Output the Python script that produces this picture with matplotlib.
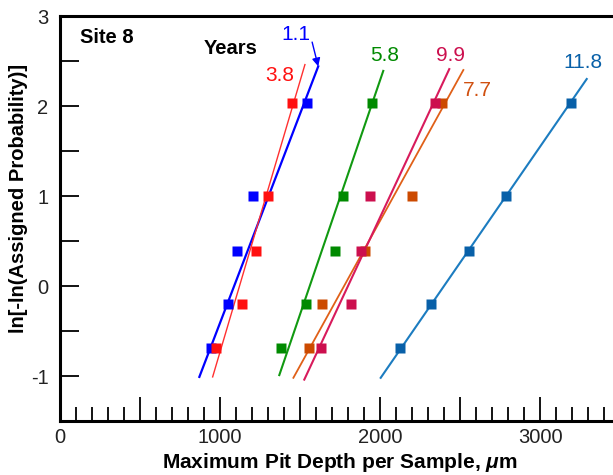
import matplotlib
matplotlib.use("Agg")
import matplotlib.pyplot as plt
from matplotlib.ticker import MultipleLocator, FuncFormatter

plt.rcParams['font.family'] = ['Liberation Sans', 'DejaVu Sans']
plt.rcParams['mathtext.fontset'] = 'custom'
plt.rcParams['mathtext.it'] = 'Liberation Sans:italic:bold'
plt.rcParams['mathtext.rm'] = 'Liberation Sans:bold'
plt.rcParams['axes.unicode_minus'] = False

# ---- data ----
years = ["1.1", "3.8", "5.8", "9.9", "7.7", "11.8"]
y_levels = [2.03, 1.00, 0.39, -0.20, -0.69]
depth_1_1 = [1547, 1210, 1106, 1050, 944]
depth_3_8 = [1449, 1304, 1225, 1141, 977]
depth_5_8 = [1949, 1772, 1720, 1537, 1381]
depth_9_9 = [2344, 1938, 1880, 1818, 1630]
depth_7_7 = [2386, 2202, 1907, 1637, 1560]
depth_11_8 = [3193, 2785, 2558, 2319, 2125]

# fitted line end points (x at bottom, x at top) and (y bottom, y top)
fit_x_1_1 = [873, 1615];  fit_y_1_1 = [-1.01, 2.44]
fit_x_3_8 = [956, 1532];  fit_y_3_8 = [-1.01, 2.46]
fit_x_5_8 = [1372, 2021]; fit_y_5_8 = [-0.99, 2.39]
fit_x_9_9 = [1528, 2433]; fit_y_9_9 = [-1.04, 2.41]
fit_x_7_7 = [1460, 2521]; fit_y_7_7 = [-1.02, 2.40]
fit_x_11_8 = [2005, 3291]; fit_y_11_8 = [-1.02, 2.30]

series = [
    (depth_1_1, fit_x_1_1, fit_y_1_1, '#0000FF', '#0000FF', 1.6),
    (depth_3_8, fit_x_3_8, fit_y_3_8, '#FF1010', '#FF3030', 1.0),
    (depth_5_8, fit_x_5_8, fit_y_5_8, '#008A00', '#119911', 1.5),
    (depth_7_7, fit_x_7_7, fit_y_7_7, '#CC4A00', '#E06018', 1.3),
    (depth_9_9, fit_x_9_9, fit_y_9_9, '#CC0F4E', '#D81B5C', 1.5),
    (depth_11_8, fit_x_11_8, fit_y_11_8, '#0860A8', '#1C7CC0', 1.5),
]

fig = plt.figure(figsize=(6.13, 4.75), dpi=100)
ax = fig.add_axes([59.5 / 613, 54 / 475, 560.7 / 613, 405 / 475])

for depth, fx, fy, mcol, lcol, lw in series:
    ax.plot(fx, fy, color=lcol, lw=lw, zorder=2)
    ax.plot(depth, y_levels, ls='none', marker='s', ms=6.8, mfc=mcol,
            mec='none', zorder=3)

ax.set_xlim(0, 3500)
ax.set_ylim(-1.5, 3)

ax.xaxis.set_major_locator(MultipleLocator(500))
ax.xaxis.set_minor_locator(MultipleLocator(100))
ax.xaxis.set_major_formatter(FuncFormatter(lambda v, p: f"{int(v)}" if int(v) % 1000 == 0 else ""))
ax.yaxis.set_major_locator(MultipleLocator(1))
ax.yaxis.set_minor_locator(MultipleLocator(0.5))

ax.tick_params(axis='x', which='major', direction='in', length=17, width=1.3,
               labelsize=14.5, pad=5, top=False)
ax.tick_params(axis='x', which='minor', direction='in', length=10, width=1.3, top=False)
ax.tick_params(axis='y', which='both', direction='in', length=14, width=1.3,
               labelsize=14.5, pad=8, right=False)
for lab in ax.get_xticklabels() + ax.get_yticklabels():
    lab.set_color('#222222')

for s in ax.spines.values():
    s.set_linewidth(2.2)

ax.set_xlabel(r"Maximum Pit Depth per Sample, $\it{\mu}$m", fontsize=15,
              fontweight='bold', labelpad=3)
ax.set_ylabel("ln[-ln(Assigned Probability)]", fontsize=14.5, fontweight='bold')
ax.yaxis.set_label_coords(-31 / 560.7, 0.55)

ax.text(128, 2.76, "Site 8", fontsize=14.5, fontweight='bold', ha='left', va='center')
ax.text(1070, 2.64, "Years", fontsize=14.5, fontweight='bold', ha='center', va='center')

label_pos = {"1.1": (1473, 2.79, '#0000FF'),
             "3.8": (1376, 2.34, '#FF1010'),
             "5.8": (2030, 2.56, '#008A00'),
             "9.9": (2441, 2.56, '#CC0F4E'),
             "7.7": (2606, 2.17, '#D05010'),
             "11.8": (3265, 2.48, '#0860A8')}
for name in years:
    x, y, c = label_pos[name]
    ax.text(x, y, name, fontsize=15, color=c, ha='center', va='center')

ax.annotate("", xy=(1615, 2.44), xytext=(1577, 2.71),
            arrowprops=dict(arrowstyle='-|>', color='#0000FF', lw=1.0,
                            mutation_scale=12, shrinkA=0, shrinkB=0))

fig.savefig("out.png", dpi=100)
